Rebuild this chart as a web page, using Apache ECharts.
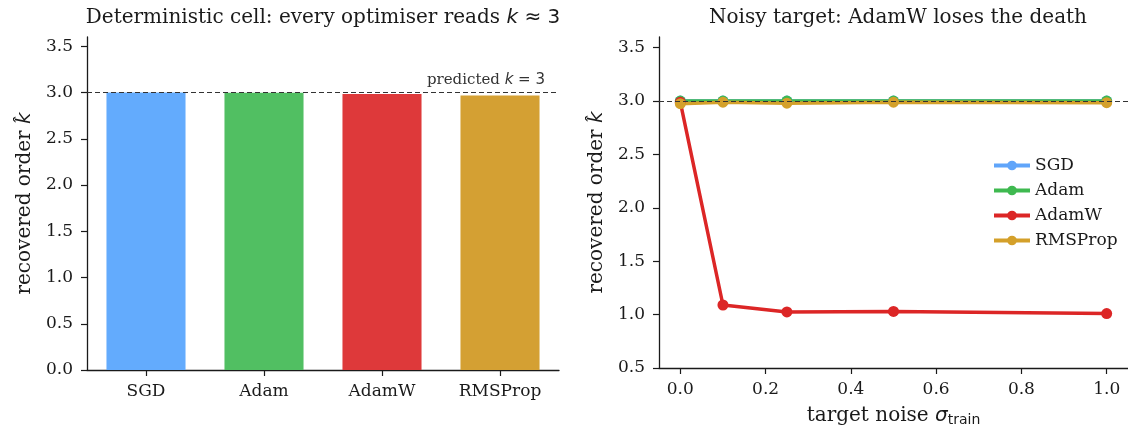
<!DOCTYPE html>
<html>
<head>
<meta charset="utf-8">
<script src="https://cdn.jsdelivr.net/npm/echarts@6/dist/echarts.min.js"></script>
<style>
  html, body { margin: 0; padding: 0; background: #fff; }
  #chart { width: 1128px; height: 432px; }
</style>
</head>
<body>
<div id="chart"></div>
<script>
// left panel: deterministic cell
const optimisers = ["SGD", "Adam", "AdamW", "RMSProp"];
const detK = [2.999, 2.997, 2.985, 2.968];

// right panel: noisy target
const noise = [0, 0.1, 0.25, 0.5, 1.0];
const sgdK = [3.0, 3.0, 3.0, 3.0, 3.0];
const adamK = [3.0, 3.0, 3.0, 3.0, 3.0];
const adamwK = [2.99, 1.09, 1.025, 1.03, 1.01];
const rmspropK = [2.975, 2.99, 2.98, 2.99, 2.985];

const leftTicks = [0, 0.5, 1.0, 1.5, 2.0, 2.5, 3.0, 3.5];
const rightYTicks = [0.5, 1.0, 1.5, 2.0, 2.5, 3.0, 3.5];
const rightXTicks = [0, 0.2, 0.4, 0.6, 0.8, 1.0];
const predictedK = 3;

const barColors = ["#63abfd", "#51bf62", "#de393a", "#d4a033"];
const lineColors = { SGD: "#60a5fa", Adam: "#3fb950", AdamW: "#dc2626", RMSProp: "#d4a02a" };

const serif = "DejaVu Serif";
const sans = "DejaVu Sans";
const ink = "#1a1a1a";

const axisCommon = {
  axisLine: { show: true, onZero: false, lineStyle: { color: ink, width: 1.3 } },
  axisTick: { show: true, inside: false, length: 6, lineStyle: { color: ink, width: 1.2 } },
  axisLabel: { color: ink, fontFamily: serif, fontSize: 17 },
  splitLine: { show: false }
};

const kRich = {
  i: { fontFamily: sans, fontStyle: "italic", fontSize: 20, color: ink },
  s: { fontFamily: sans, fontSize: 20, color: ink }
};

const chart = echarts.init(document.getElementById("chart"), null, { renderer: "canvas" });

const lineSeries = (name, values) => ({
  name: name,
  type: "line",
  xAxisIndex: 1,
  yAxisIndex: 1,
  data: noise.map((x, i) => [x, values[i]]),
  symbol: "circle",
  symbolSize: 11,
  showSymbol: true,
  lineStyle: { width: 3.5, color: lineColors[name] },
  itemStyle: { color: lineColors[name] },
  emphasis: { disabled: true },
  animation: false
});

chart.setOption({
  animation: false,
  title: [
    {
      text: "Deterministic cell: every optimiser reads {i|k} {s|≈ 3}",
      left: 318, top: 3, textAlign: "center",
      textStyle: { fontFamily: serif, fontSize: 20, fontWeight: "normal", color: ink, rich: kRich }
    },
    {
      text: "Noisy target: AdamW loses the death",
      left: 893, top: 3, textAlign: "center",
      textStyle: { fontFamily: serif, fontSize: 20, fontWeight: "normal", color: ink }
    }
  ],
  legend: {
    orient: "vertical",
    left: 987, top: 152,
    itemWidth: 36, itemHeight: 12, itemGap: 8,
    lineStyle: { width: 4 },
    textStyle: { fontFamily: serif, fontSize: 17, color: ink },
    data: optimisers
  },
  grid: [
    { left: 87, top: 37, width: 472, height: 333 },
    { left: 659, top: 37, width: 469, height: 333 }
  ],
  xAxis: [
    Object.assign({}, axisCommon, {
      type: "category", gridIndex: 0, data: optimisers,
      axisTick: Object.assign({}, axisCommon.axisTick, { alignWithLabel: true }),
      axisLabel: Object.assign({}, axisCommon.axisLabel, { margin: 13 })
    }),
    Object.assign({}, axisCommon, {
      type: "value", gridIndex: 1, min: -0.05, max: 1.05,
      axisTick: Object.assign({}, axisCommon.axisTick, { customValues: rightXTicks }),
      axisLabel: Object.assign({}, axisCommon.axisLabel, {
        customValues: rightXTicks, margin: 13,
        formatter: v => v.toFixed(1)
      }),
      name: "target noise {i|σ}{sub|train}",
      nameLocation: "middle", nameGap: 36,
      nameTextStyle: {
        fontFamily: serif, fontSize: 20, color: ink,
        rich: {
          i: { fontFamily: sans, fontStyle: "italic", fontSize: 20, color: ink },
          sub: { fontFamily: sans, fontSize: 14, color: ink, verticalAlign: "bottom", padding: [9, 0, 0, 0] }
        }
      }
    })
  ],
  yAxis: [
    Object.assign({}, axisCommon, {
      type: "value", gridIndex: 0, min: 0, max: 3.6,
      axisTick: Object.assign({}, axisCommon.axisTick, { customValues: leftTicks }),
      axisLabel: Object.assign({}, axisCommon.axisLabel, {
        customValues: leftTicks, margin: 14,
        formatter: v => v.toFixed(1)
      }),
      name: "recovered order {i|k̂}",
      nameLocation: "middle", nameGap: 52,
      nameTextStyle: { fontFamily: serif, fontSize: 20, color: ink, rich: kRich }
    }),
    Object.assign({}, axisCommon, {
      type: "value", gridIndex: 1, min: 0.5, max: 3.6,
      axisTick: Object.assign({}, axisCommon.axisTick, { customValues: rightYTicks }),
      axisLabel: Object.assign({}, axisCommon.axisLabel, {
        customValues: rightYTicks, margin: 14,
        formatter: v => v.toFixed(1)
      }),
      name: "recovered order {i|k̂}",
      nameLocation: "middle", nameGap: 52,
      nameTextStyle: { fontFamily: serif, fontSize: 20, color: ink, rich: kRich }
    })
  ],
  series: [
    {
      name: "deterministic",
      type: "bar",
      xAxisIndex: 0,
      yAxisIndex: 0,
      barWidth: "67%",
      data: detK.map((v, i) => ({ value: v, itemStyle: { color: barColors[i] } })),
      emphasis: { disabled: true },
      markLine: {
        silent: true,
        symbol: "none",
        lineStyle: { color: "#333", type: [5, 3], width: 1.2 },
        label: {
          show: true,
          position: "insideEndTop",
          distance: [14, 5],
          formatter: "predicted {i|k} {s|= 3}",
          fontFamily: serif, fontSize: 15, color: "#333",
          rich: {
            i: { fontFamily: sans, fontStyle: "italic", fontSize: 15, color: "#333" },
            s: { fontFamily: sans, fontSize: 15, color: "#333" }
          }
        },
        data: [{ yAxis: predictedK }]
      }
    },
    lineSeries("SGD", sgdK),
    lineSeries("Adam", adamK),
    lineSeries("AdamW", adamwK),
    Object.assign(lineSeries("RMSProp", rmspropK), {
      markLine: {
        silent: true,
        symbol: "none",
        z: 10,
        lineStyle: { color: "#333", type: [5, 3], width: 1.2 },
        label: { show: false },
        data: [{ yAxis: predictedK }]
      }
    })
  ]
});
</script>
</body>
</html>
